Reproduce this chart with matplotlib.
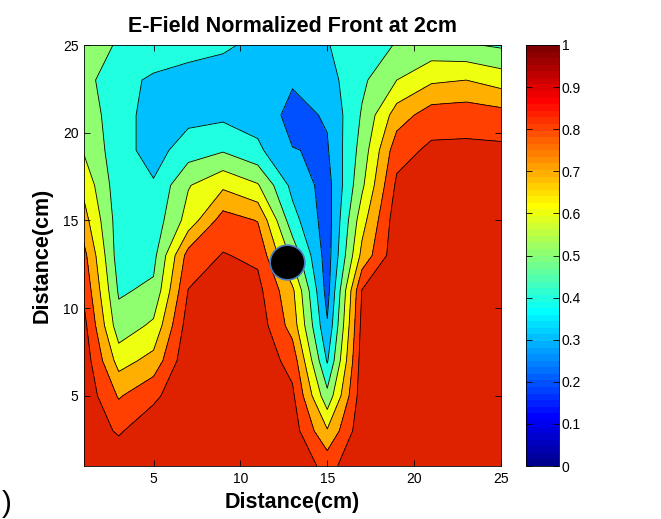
import numpy as np
import matplotlib
matplotlib.use("Agg")
import matplotlib.pyplot as plt
from matplotlib.colors import ListedColormap, Normalize
from matplotlib.cm import ScalarMappable

plt.rcParams['font.family'] = ['Liberation Sans', 'DejaVu Sans']

# ---------------- data ----------------
x_cm = [1, 3, 5, 7, 9, 11, 13, 15, 17, 19, 21, 23, 25]
y_cm = [1, 3, 5, 7, 9, 11, 13, 15, 17, 19, 21, 23, 25]

# normalized E-field, one list per x position, from y=1 (bottom) to y=25 (top)
field_x01 = [0.95, 0.95, 0.97, 0.96, 0.93, 0.88, 0.83, 0.74, 0.67, 0.59, 0.56, 0.53, 0.55]
field_x03 = [0.96, 0.89, 0.79, 0.66, 0.54, 0.487, 0.45, 0.45, 0.44, 0.44, 0.44, 0.44, 0.49]
field_x05 = [0.98, 0.957, 0.881, 0.734, 0.62, 0.52, 0.47, 0.44, 0.41, 0.36, 0.36, 0.38, 0.48]
field_x07 = [0.97, 0.97, 0.97, 0.98, 0.95, 0.903, 0.84, 0.64, 0.593, 0.45, 0.37, 0.37, 0.43]
field_x09 = [0.97, 0.97, 0.97, 0.96, 0.95, 0.93, 0.906, 0.845, 0.68, 0.49, 0.378, 0.37, 0.41]
field_x11 = [0.97, 0.97, 0.97, 0.97, 0.96, 0.93, 0.88, 0.796, 0.61, 0.42, 0.36, 0.35, 0.385]
field_x13 = [0.97, 0.95, 0.92, 0.863, 0.758, 0.72, 0.57, 0.44, 0.37, 0.303, 0.27, 0.31, 0.36]
field_x15 = [0.87, 0.71, 0.53, 0.39, 0.31, 0.26, 0.25, 0.25, 0.26, 0.29, 0.31, 0.36, 0.395]
field_x17 = [0.97, 0.97, 0.96, 0.95, 0.93, 0.905, 0.73, 0.66, 0.58, 0.54, 0.51, 0.48, 0.46]
field_x19 = [0.97, 0.97, 0.97, 0.97, 0.97, 0.97, 0.97, 0.96, 0.92, 0.86, 0.75, 0.60, 0.505]
field_x21 = [0.97, 0.97, 0.97, 0.97, 0.97, 0.97, 0.97, 0.96, 0.95, 0.92, 0.85, 0.683, 0.532]
field_x23 = [0.97, 0.97, 0.97, 0.97, 0.97, 0.97, 0.97, 0.96, 0.95, 0.92, 0.86, 0.70, 0.51]
field_x25 = [0.97, 0.97, 0.97, 0.97, 0.97, 0.97, 0.96, 0.95, 0.93, 0.92, 0.84, 0.655, 0.485]

levels = [0.0, 0.1, 0.2, 0.3, 0.4, 0.5, 0.6, 0.7, 0.8, 0.9, 1.0]
cbar_tick_labels = ['0', '0.1', '0.2', '0.3', '0.4', '0.5', '0.6', '0.7', '0.8', '0.9', '1']
axis_ticks = [5, 10, 15, 20, 25]
probe_x = [12.7]
probe_y = [12.65]

title = 'E-Field Normalized Front at 2cm'
xlabel = 'Distance(cm)'
ylabel = 'Distance(cm)'


# ---------------- MATLAB-style jet ----------------
def matlab_jet(m=64):
    n = int(np.ceil(m / 4))
    u = np.concatenate([np.arange(1, n + 1) / n, np.ones(n - 1), np.arange(n, 0, -1) / n])
    g = int(np.ceil(n / 2)) - (1 if m % 4 == 1 else 0) + np.arange(1, len(u) + 1)
    r = g + n
    b = g - n
    J = np.zeros((m, 3))
    for idx, ch in ((r, 0), (g, 1), (b, 2)):
        ok = (idx >= 1) & (idx <= m)
        J[idx[ok] - 1, ch] = u[ok]
    return J

J = matlab_jet(64)
cmap = ListedColormap(J)
fill_colors = [tuple(J[min(int(np.floor(lv * 64 + 1e-9)), 63)]) for lv in levels[:-1]]
# the top band appears slightly orange-tinted in the original rendering
fill_colors[-1] = (0.87, 0.135, 0.0)

# ---------------- figure ----------------
fig = plt.figure(figsize=(6.61, 5.19), dpi=100)
ax = fig.add_axes([84 / 661, 53 / 519, 417 / 661, 421 / 519])

X, Y = np.meshgrid(x_cm, y_cm)
Z = np.array([field_x01, field_x03, field_x05, field_x07, field_x09, field_x11, field_x13,
              field_x15, field_x17, field_x19, field_x21, field_x23, field_x25]).T

ax.contourf(X, Y, Z, levels=levels, colors=fill_colors)
ax.contour(X, Y, Z, levels=levels, colors='k', linewidths=0.6)
ax.plot(probe_x, probe_y, 'o', markersize=25, markerfacecolor='black',
        markeredgecolor='#4a7fc0', markeredgewidth=1.2)

ax.set_xlim(1, 25)
ax.set_ylim(1, 25)
ax.set_xticks(axis_ticks)
ax.set_yticks(axis_ticks)
ax.tick_params(direction='in', top=True, right=True, length=4, width=0.6, labelsize=10, pad=4)
for s in ax.spines.values():
    s.set_linewidth(0.6)

ax.set_title(title, fontsize=15.5, fontweight='bold', pad=9)
ax.set_xlabel(xlabel, fontsize=15.5, fontweight='bold')
ax.xaxis.set_label_coords(0.5, -0.062)
ax.set_ylabel(ylabel, fontsize=15.5, fontweight='bold', va='center')
ax.yaxis.set_label_coords(-0.10, 0.5)

cax = fig.add_axes([526 / 661, 53 / 519, 33 / 661, 421 / 519])
cb = fig.colorbar(ScalarMappable(norm=Normalize(0, 1), cmap=cmap), cax=cax, ticks=levels)
cb.ax.set_yticklabels(cbar_tick_labels)
cb.ax.tick_params(direction='in', left=True, right=True, length=4, width=0.6, labelsize=10, pad=2)
cb.outline.set_linewidth(0.6)

# stray glyph at lower-left corner of the original image
fig.text(0.002, (519 - 490) / 519, ')', fontsize=21, va='top', ha='left')

fig.savefig('out.png', dpi=100)
